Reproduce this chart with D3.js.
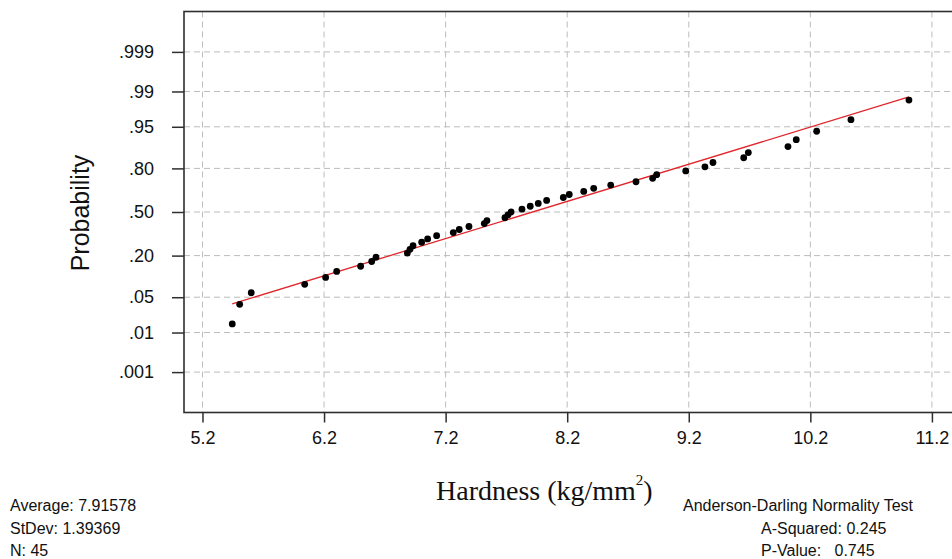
<!DOCTYPE html>
<html>
<head>
<meta charset="utf-8">
<script src="https://cdn.jsdelivr.net/npm/d3@7"></script>
<style>
  html, body { margin: 0; padding: 0; background: #fff; }
  svg { display: block; }
  text { fill: #111; }
</style>
</head>
<body>
<svg id="chart" width="952" height="559"></svg>
<script>
// Hardness readings (kg/mm^2), sorted ascending
const hardness = [
  5.445, 5.506, 5.601, 6.041, 6.213, 6.304, 6.501, 6.592, 6.627,
  6.885, 6.907, 6.932, 7.003, 7.052, 7.126, 7.263, 7.312, 7.392,
  7.518, 7.540, 7.688, 7.713, 7.738, 7.828, 7.896, 7.962, 8.031,
  8.168, 8.217, 8.336, 8.418, 8.558, 8.766, 8.903, 8.936, 9.175,
  9.333, 9.399, 9.652, 9.690, 10.016, 10.084, 10.252, 10.534, 11.011
];

// Cumulative probability (median rank) of each reading
const cumulativeProb = [
  0.0154, 0.0374, 0.0595, 0.0815, 0.1035, 0.1256, 0.1476, 0.1696, 0.1916,
  0.2137, 0.2357, 0.2577, 0.2797, 0.3018, 0.3238, 0.3458, 0.3678, 0.3899,
  0.4119, 0.4339, 0.4559, 0.4780, 0.5000, 0.5220, 0.5441, 0.5661, 0.5881,
  0.6101, 0.6322, 0.6542, 0.6762, 0.6982, 0.7203, 0.7423, 0.7643, 0.7863,
  0.8084, 0.8304, 0.8524, 0.8744, 0.8965, 0.9185, 0.9405, 0.9626, 0.9846
];

const probTicks = [0.001, 0.01, 0.05, 0.20, 0.50, 0.80, 0.95, 0.99, 0.999];
const probTickLabels = [".001", ".01", ".05", ".20", ".50", ".80", ".95", ".99", ".999"];
const xTicks = [5.2, 6.2, 7.2, 8.2, 9.2, 10.2, 11.2];
const xTickLabels = ["5.2", "6.2", "7.2", "8.2", "9.2", "10.2", "11.2"];

const fitMean = 7.91578;
const fitStDev = 1.39369;
const sampleN = 45;
const summaryLines = ["Average: " + fitMean, "StDev: " + fitStDev, "N: " + sampleN];
const testLines = ["Anderson-Darling Normality Test", "A-Squared: 0.245", "P-Value:   0.745"];

const sans = "'Liberation Sans', Arial, sans-serif";
const serif = "'Liberation Serif', 'Times New Roman', serif";

// Inverse of the standard normal CDF (Acklam's rational approximation)
function probit(p) {
  const a = [-3.969683028665376e+01, 2.209460984245205e+02, -2.759285104469687e+02,
             1.383577518672690e+02, -3.066479806614716e+01, 2.506628277459239e+00];
  const b = [-5.447609879822406e+01, 1.615858368580409e+02, -1.556989798598866e+02,
             6.680131188771972e+01, -1.328068155288572e+01];
  const c = [-7.784894002430293e-03, -3.223964580411365e-01, -2.400758277161838e+00,
             -2.549732539343734e+00, 4.374664141464968e+00, 2.938163982698783e+00];
  const d = [7.784695709041462e-03, 3.224671290700398e-01, 2.445134137142996e+00,
             3.754408661907416e+00];
  const pl = 0.02425, ph = 1 - pl;
  let q, r;
  if (p < pl) {
    q = Math.sqrt(-2 * Math.log(p));
    return (((((c[0]*q + c[1])*q + c[2])*q + c[3])*q + c[4])*q + c[5]) /
           ((((d[0]*q + d[1])*q + d[2])*q + d[3])*q + 1);
  }
  if (p > ph) {
    q = Math.sqrt(-2 * Math.log(1 - p));
    return -(((((c[0]*q + c[1])*q + c[2])*q + c[3])*q + c[4])*q + c[5]) /
            ((((d[0]*q + d[1])*q + d[2])*q + d[3])*q + 1);
  }
  q = p - 0.5; r = q * q;
  return (((((a[0]*r + a[1])*r + a[2])*r + a[3])*r + a[4])*r + a[5]) * q /
         (((((b[0]*r + b[1])*r + b[2])*r + b[3])*r + b[4])*r + 1);
}

const svg = d3.select("#chart");
const plot = { left: 184, top: 11.5, right: 960, bottom: 412.5 };

const x = d3.scaleLinear().domain([5.048, 11.431]).range([plot.left, plot.right]);
// Probability axis: linear in the standard normal quantile
const z = d3.scaleLinear().domain([-3.87, 3.87]).range([plot.bottom, plot.top]);
const yProb = p => z(probit(p));

const gridColor = "#bcbcbc";
const frameColor = "#2e2e2e";

// Grid
const grid = svg.append("g");
grid.selectAll("line.h").data(probTicks).join("line")
  .attr("x1", plot.left).attr("x2", plot.right)
  .attr("y1", d => yProb(d)).attr("y2", d => yProb(d))
  .attr("stroke", gridColor).attr("stroke-width", 1).attr("stroke-dasharray", "6,4");
grid.selectAll("line.v").data(xTicks).join("line")
  .attr("x1", d => x(d)).attr("x2", d => x(d))
  .attr("y1", plot.top).attr("y2", plot.bottom)
  .attr("stroke", gridColor).attr("stroke-width", 1).attr("stroke-dasharray", "6,4");

// Frame
svg.append("rect")
  .attr("x", plot.left).attr("y", plot.top)
  .attr("width", plot.right - plot.left).attr("height", plot.bottom - plot.top)
  .attr("fill", "none").attr("stroke", frameColor).attr("stroke-width", 1.6);

// Y axis
const yAxis = d3.axisLeft(z)
  .tickValues(probTicks.map(probit))
  .tickFormat((d, i) => probTickLabels[i])
  .tickSize(12).tickPadding(18);
const gy = svg.append("g").attr("transform", `translate(${plot.left},0)`).call(yAxis);
gy.select(".domain").remove();
gy.selectAll(".tick line").attr("stroke", frameColor).attr("stroke-width", 1.5);
gy.selectAll(".tick text").attr("font-size", 18).style("font-family", sans).attr("fill", "#111");

// X axis
const xAxis = d3.axisBottom(x)
  .tickValues(xTicks)
  .tickFormat((d, i) => xTickLabels[i])
  .tickSize(10).tickPadding(9);
const gx = svg.append("g").attr("transform", `translate(0,${plot.bottom})`).call(xAxis);
gx.select(".domain").remove();
gx.selectAll(".tick line").attr("stroke", frameColor).attr("stroke-width", 1.5);
gx.selectAll(".tick text").attr("font-size", 18).style("font-family", sans).attr("fill", "#111");

// Fitted normal line across the data range
const xMin = d3.min(hardness), xMax = d3.max(hardness);
svg.append("line")
  .attr("x1", x(xMin)).attr("y1", z((xMin - fitMean) / fitStDev))
  .attr("x2", x(xMax)).attr("y2", z((xMax - fitMean) / fitStDev))
  .attr("stroke", "#e0262b").attr("stroke-width", 1.3);

// Observations
svg.append("g").selectAll("circle").data(hardness).join("circle")
  .attr("cx", d => x(d))
  .attr("cy", (d, i) => yProb(cumulativeProb[i]))
  .attr("r", 3.4)
  .attr("fill", "#000");

// Axis titles
svg.append("text")
  .attr("transform", "translate(80,213) rotate(-90)")
  .attr("text-anchor", "middle").attr("dominant-baseline", "central")
  .style("font-family", sans)
  .attr("font-size", 25)
  .text("Probability");

const xt = svg.append("text")
  .attr("x", 436).attr("y", 500)
  .style("font-family", serif)
  .attr("font-size", 28);
xt.append("tspan").text("Hardness (kg/mm");
xt.append("tspan").attr("font-size", 15).attr("dy", -15).text("2");
xt.append("tspan").attr("dy", 15).text(")");

// Summary statistics
svg.append("g").selectAll("text").data(summaryLines).join("text")
  .attr("x", 10).attr("y", (d, i) => 511 + i * 22.5)
  .style("font-family", sans)
  .attr("font-size", 16)
  .text(d => d);

svg.append("g").selectAll("text").data(testLines).join("text")
  .attr("x", (d, i) => i === 0 ? 683 : 761)
  .attr("y", (d, i) => 511 + i * 22.5)
  .style("font-family", sans)
  .attr("font-size", 16)
  .style("white-space", "pre")
  .text(d => d);
</script>
</body>
</html>
